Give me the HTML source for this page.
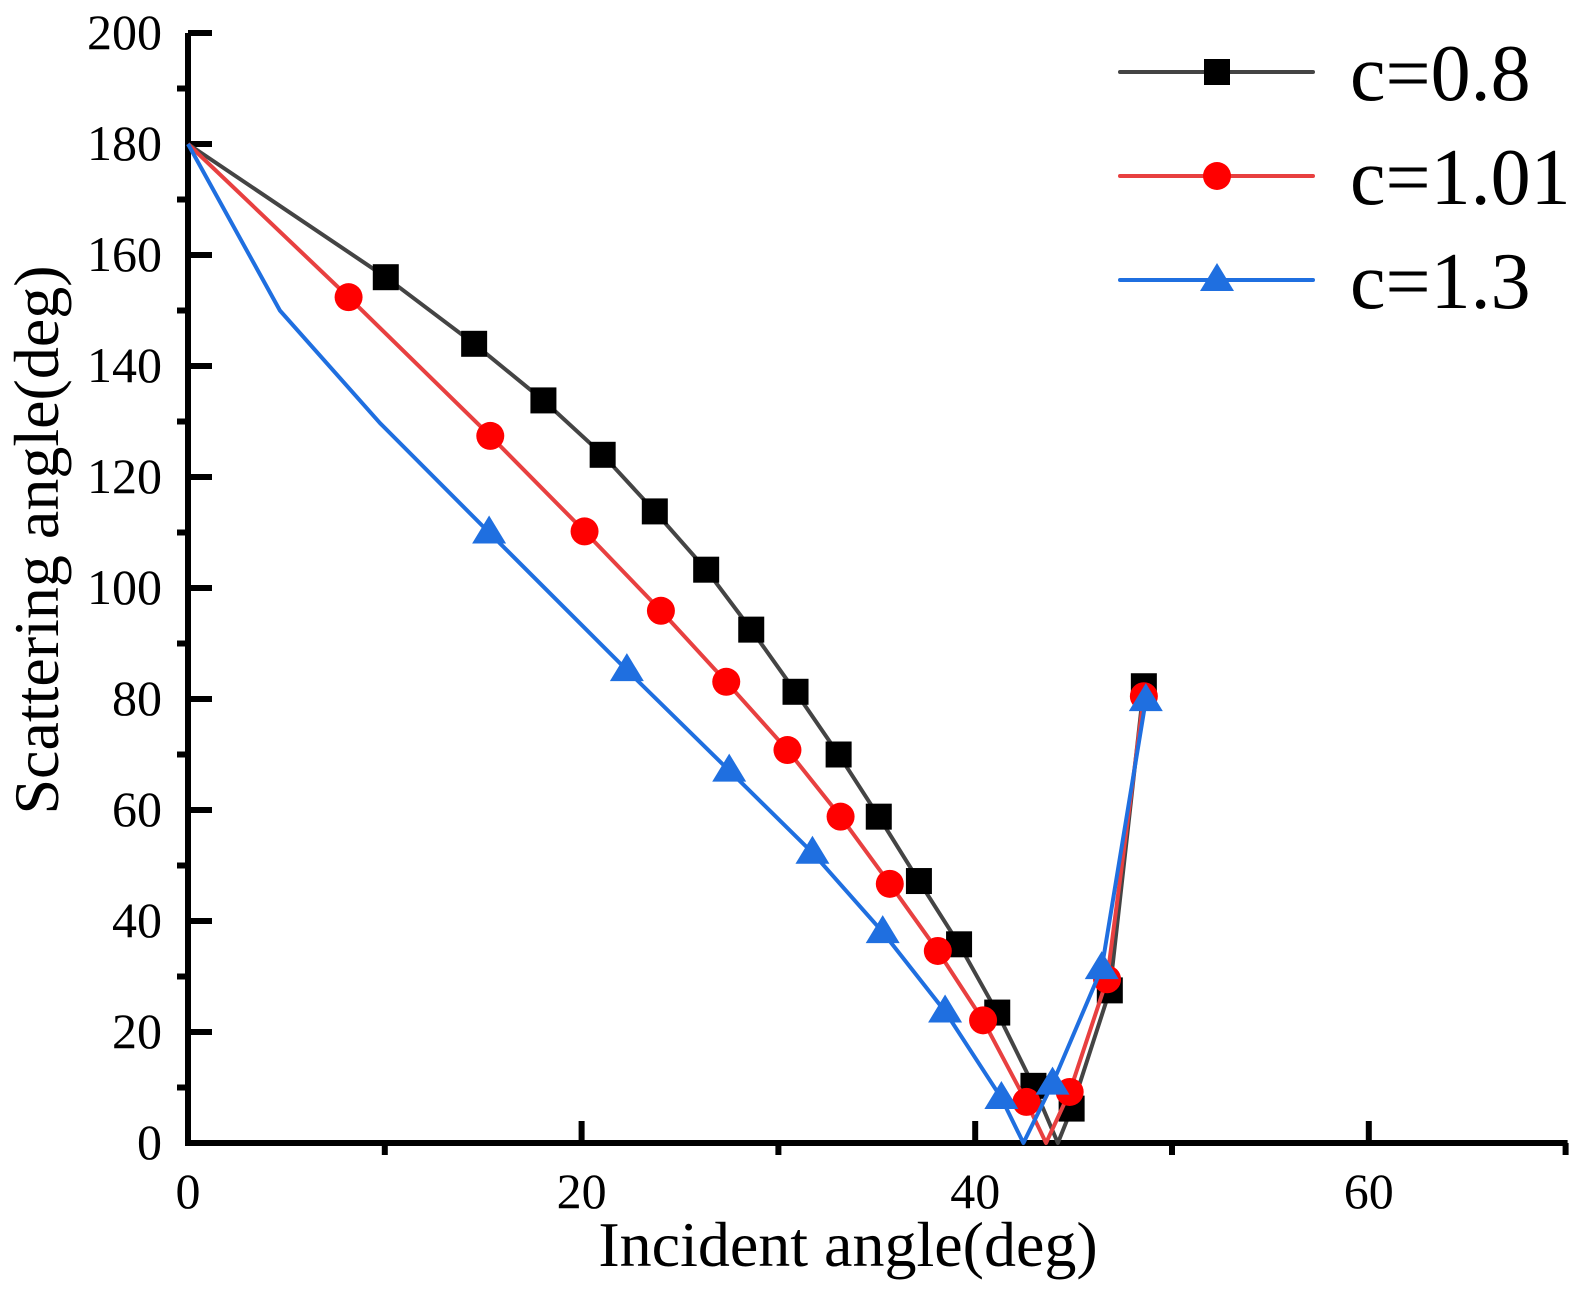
<!DOCTYPE html>
<html><head><meta charset="utf-8"><style>
html,body{margin:0;padding:0;background:#fff;}
svg{display:block;font-family:"Liberation Serif",serif;}
</style></head><body>
<svg id="chart" width="1575" height="1297" viewBox="0 0 1575 1297"></svg>
<script>
const xTicks=[0,20,40,60];
const yTicks=[0,20,40,60,80,100,120,140,160,180,200];
const blackX=[10.05,14.54,18.06,21.07,23.72,26.33,28.62,30.87,33.06,35.1,37.14,39.18,41.12,42.96,44.9,46.84,48.57];
const blackY=[156,144,133.8,124,113.8,103.3,92.5,81.3,70,58.8,47.2,35.8,23.5,10.3,6.2,27.5,82.3];
const blackLineX=[0,10.05,14.54,18.06,21.07,23.72,26.33,28.62,30.87,33.06,35.1,37.14,39.18,41.12,42.96,44.2,44.9,46.84,48.57];
const blackLineY=[180,156,144,133.8,124,113.8,103.3,92.5,81.3,70,58.8,47.2,35.8,23.5,10.3,0,6.2,27.5,82.3];
const redX=[8.16,15.36,20.15,24.03,27.35,30.46,33.16,35.66,38.1,40.4,42.6,44.8,46.7,48.57];
const redY=[152.4,127.4,110.2,95.9,83.1,70.8,58.8,46.7,34.6,22.1,7.4,9.2,29.5,80.5];
const redLineX=[0,8.16,15.36,20.15,24.03,27.35,30.46,33.16,35.66,38.1,40.4,42.6,43.6,44.8,46.7,48.57];
const redLineY=[180,152.4,127.4,110.2,95.9,83.1,70.8,58.8,46.7,34.6,22.1,7.4,0,9.2,29.5,80.5];
const blueX=[15.3,22.3,27.5,31.73,35.3,38.47,41.33,43.93,46.43,48.67];
const blueY=[110,85.2,67.1,52.3,38,23.7,8.1,10.7,31.5,79.8];
const blueLineX=[0,4.67,9.76,15.3,22.3,27.5,31.73,35.3,38.47,41.33,42.45,43.93,46.43,48.67];
const blueLineY=[180,150,129.7,110,85.2,67.1,52.3,38,23.7,8.1,0,10.7,31.5,79.8];

const X0=188,XS=19.68,Y0=1143,YS=5.55;
const sx=v=>X0+v*XS, sy=v=>Y0-v*YS;
const svg=document.getElementById('chart');
const NS='http://www.w3.org/2000/svg';
function mk(tag,attrs,parent){const e=document.createElementNS(NS,tag);for(const k in attrs)e.setAttribute(k,attrs[k]);(parent||svg).appendChild(e);return e;}

let ax=mk('line',{x1:sx(0)-3,y1:sy(0),x2:sx(70)+2,y2:sy(0),stroke:'#000','stroke-width':6});


let ay=mk('line',{x1:sx(0),y1:sy(0)+3,x2:sx(0),y2:sy(200),stroke:'#000','stroke-width':6});



for(let v=0;v<=70;v+=10){const major=v%20===0;
 let t=mk('line',{x1:sx(v),y1:Y0,x2:sx(v),y2:major?Y0-22:Y0+12,stroke:'#000','stroke-width':6});
 
 }
xTicks.forEach(v=>{let t=mk('text',{x:sx(v),y:1208,'font-size':50,'text-anchor':'middle'});t.textContent=v;
 
 });
for(let v=0;v<=200;v+=10){const major=v%20===0;
 let t=mk('line',{x1:major?X0+24:X0-11,y1:sy(v),x2:X0,y2:sy(v),stroke:'#000','stroke-width':6});
 
 }
yTicks.forEach(v=>{let t=mk('text',{x:162,y:sy(v)+16,'font-size':50,'text-anchor':'end'});t.textContent=v;
 
 });

let xt=mk('text',{x:848,y:1266,'font-size':64,'text-anchor':'middle'});xt.textContent='Incident angle(deg)';


let yt=mk('text',{x:0,y:0,'font-size':64,'text-anchor':'middle',transform:'translate(58,540) rotate(-90)'});yt.textContent='Scattering angle(deg)';



function marker(type,cx,cy,color,name){
 let e;
 if(type==='sq') e=mk('rect',{x:cx-13,y:cy-13,width:26,height:26,fill:color});
 else if(type==='ci') e=mk('circle',{cx:cx,cy:cy,r:14,fill:color});
 else e=mk('polygon',{points:`${cx},${cy-17} ${cx-17},${cy+11} ${cx+17},${cy+11}`,fill:color});
 
 
}
function series(lx,ly,px,py,color,lineColor,type,name){
 let p=mk('polyline',{points:lx.map((v,i)=>sx(v)+','+sy(ly[i])).join(' '),fill:'none',stroke:lineColor,'stroke-width':4,'stroke-linejoin':'round'});
 
 
 px.forEach((v,i)=>marker(type,sx(v),sy(py[i]),color,name+'-point'));
}
series(blackLineX,blackLineY,blackX,blackY,'#000','#444','sq','c08');
series(redLineX,redLineY,redX,redY,'#f00','#e84040','ci','c101');
series(blueLineX,blueLineY,blueX,blueY,'#1f6fe0','#1f6fe0','tr','c13');

const legendLabels=['c=0.8','c=1.01','c=1.3'];
const legendColors=['#000','#f00','#1f6fe0'];
const legendLines=['#444','#e84040','#1f6fe0'];
const legendTypes=['sq','ci','tr'];
legendLabels.forEach((lab,i)=>{const y=72+i*104;
 let l=mk('line',{x1:1120,y1:y,x2:1313,y2:y,stroke:legendLines[i],'stroke-width':4,'stroke-linecap':'round'});
 
 
 marker(legendTypes[i],1217,y,legendColors[i],'legend-marker');
 let t=mk('text',{x:1350,y:y+28,'font-size':80});t.textContent=lab;
 
 
});
</script>
</body></html>
